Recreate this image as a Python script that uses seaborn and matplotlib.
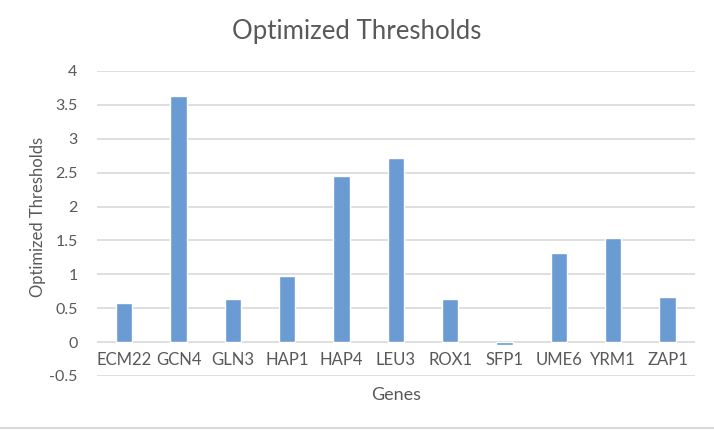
import seaborn as sns
import matplotlib.pyplot as plt
from matplotlib.lines import Line2D
from matplotlib.ticker import FuncFormatter
import pandas as pd

genes = ["ECM22", "GCN4", "GLN3", "HAP1", "HAP4", "LEU3", "ROX1", "SFP1", "UME6", "YRM1", "ZAP1"]
thresholds = [0.57, 3.63, 0.63, 0.98, 2.45, 2.72, 0.63, -0.05, 1.31, 1.54, 0.66]
yticks = [-0.5, 0, 0.5, 1, 1.5, 2, 2.5, 3, 3.5, 4]

sns.set_style("white")
plt.rcParams["font.family"] = ["Lato", "DejaVu Sans"]

df = pd.DataFrame({"Genes": genes, "Optimized Thresholds": thresholds})

fig = plt.figure(figsize=(7.14, 4.30), dpi=100)
ax = fig.add_axes([0.136, 0.1256, 0.837, 0.7094])

sns.barplot(data=df, x="Genes", y="Optimized Thresholds", color="#6A9BD2",
            width=0.3, saturation=1, ax=ax, zorder=3)

ax.set_ylim(-0.5, 4)
ax.set_xlim(-0.5, len(genes) - 0.5)
ax.set_yticks(yticks)
ax.yaxis.set_major_formatter(FuncFormatter(lambda v, p: f"{v:g}"))
ax.grid(axis="y", color="#D9D9D9", linewidth=1.2, zorder=0)

for s in ax.spines.values():
    s.set_visible(False)
ax.spines["bottom"].set_position(("data", 0))

ax.tick_params(axis="x", length=0, pad=7, labelsize=12, labelcolor="#595959")
ax.tick_params(axis="y", length=0, pad=14, labelsize=11.5, labelcolor="#595959")

# title is centred on the whole chart, not on the plot area
fig.text(0.5, 0.926, "Optimized Thresholds", fontsize=18.5, color="#595959",
         ha="center", va="center")
ax.set_ylabel("Optimized Thresholds", fontsize=12, color="#595959")
ax.set_xlabel("Genes", fontsize=13, color="#595959")
ax.xaxis.set_label_coords(0.5, -0.035)
ax.yaxis.set_label_coords(-0.085, 0.52)

fig.add_artist(Line2D([0, 1], [0.005, 0.005], color="#D9D9D9", linewidth=1.5,
                      transform=fig.transFigure))

fig.savefig("out.png", dpi=100)
